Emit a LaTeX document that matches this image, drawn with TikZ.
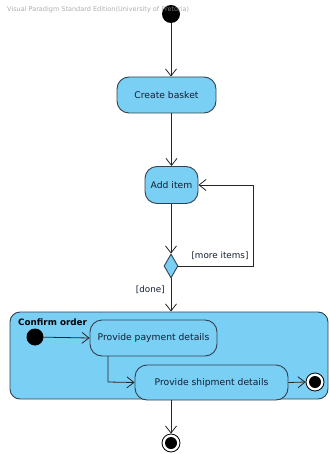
\documentclass[tikz,border=0pt]{standalone}
\usepackage{fontspec}
\setmainfont{DejaVu Sans}
\usetikzlibrary{arrows.meta,shapes.geometric}
\definecolor{actfill}{RGB}{122,207,245}
\definecolor{actline}{RGB}{52,64,78}
\definecolor{acttext}{RGB}{20,30,50}
\begin{document}
\begin{tikzpicture}[x=1pt,y=-1pt,
  action/.style={draw=actline,fill=actfill,line width=0.9pt,rounded corners=12pt,
    text=acttext,font=\fontsize{9.2}{10}\selectfont,inner sep=0pt},
  startnode/.style={circle,fill=black,minimum size=18pt,inner sep=0pt},
  flow/.style={draw=black!85,line width=0.8pt,-{Straight Barb[length=7pt,width=11pt,line width=0.8pt]}},
  guard/.style={font=\fontsize{8.8}{10}\selectfont,text=acttext,inner sep=0pt}]
\useasboundingbox (0,0) rectangle (329,454);
% initial node
\node[startnode] (init) at (171,14) {};
% watermark, printed over the initial node
\node[anchor=west,text=black!40,opacity=0.8,font=\fontsize{6.5}{7}\selectfont,inner sep=0pt] (wm) at (7,10)
  {Visual Paradigm Standard Edition(University of Pretoria)};
% actions
\node[action,minimum width=99pt,minimum height=36pt] (basket) at (166.5,95) {Create basket};
\node[action,minimum width=53pt,minimum height=37pt] (additem) at (171.5,185) {Add item};
\node[diamond,draw=actline,fill=actfill,line width=0.9pt,minimum width=14pt,minimum height=24pt,inner sep=0pt] (dec) at (171,266) {};
% composite state
\node[draw=actline,fill=actfill,line width=0.9pt,rounded corners=10pt,minimum width=318pt,minimum height=87pt,inner sep=0pt] (confirm) at (169,355.5) {};
\node[anchor=west,font=\bfseries\fontsize{8.8}{10}\selectfont,text=black,inner sep=0pt] (conflabel) at (18,322) {Confirm order};
\node[startnode,minimum size=17pt] (init2) at (35,337) {};
\node[action,minimum width=127pt,minimum height=36pt] (pay) at (153.5,338) {Provide payment details};
\node[action,minimum width=153pt,minimum height=35pt] (ship) at (211.5,382.5) {Provide shipment details};
% final nodes
\node[circle,draw=black,fill=white,line width=0.8pt,minimum size=18pt,inner sep=0pt] (fin2) at (315,382) {};
\node[circle,fill=black,minimum size=12pt,inner sep=0pt] at (fin2) {};
\node[circle,draw=black,fill=white,line width=0.8pt,minimum size=18pt,inner sep=0pt] (fin) at (171,443) {};
\node[circle,fill=black,minimum size=12pt,inner sep=0pt] at (fin) {};
% flows
\draw[flow] (init) -- (basket.north -| init);
\draw[flow] (basket.south -| additem) -- (additem);
\draw[flow] (additem.south -| dec) -- (dec.north);
\draw[flow] (dec.east) -- (253,266) -- (253,185) -- (additem.east);
\node[guard,anchor=south] (more) at (220,260) {[more items]};
\draw[flow] (dec.south) -- (confirm.north -| dec);
\node[guard,anchor=east] (done) at (165,290) {[done]};
\draw[flow] (init2) -- (pay.west);
\draw[flow] (108,356) -- (108,382) -- (ship.west);
\draw[flow] (ship.east) -- (fin2.west);
\draw[flow] (ship.south -| fin) -- (fin.north);
\end{tikzpicture}
\end{document}
